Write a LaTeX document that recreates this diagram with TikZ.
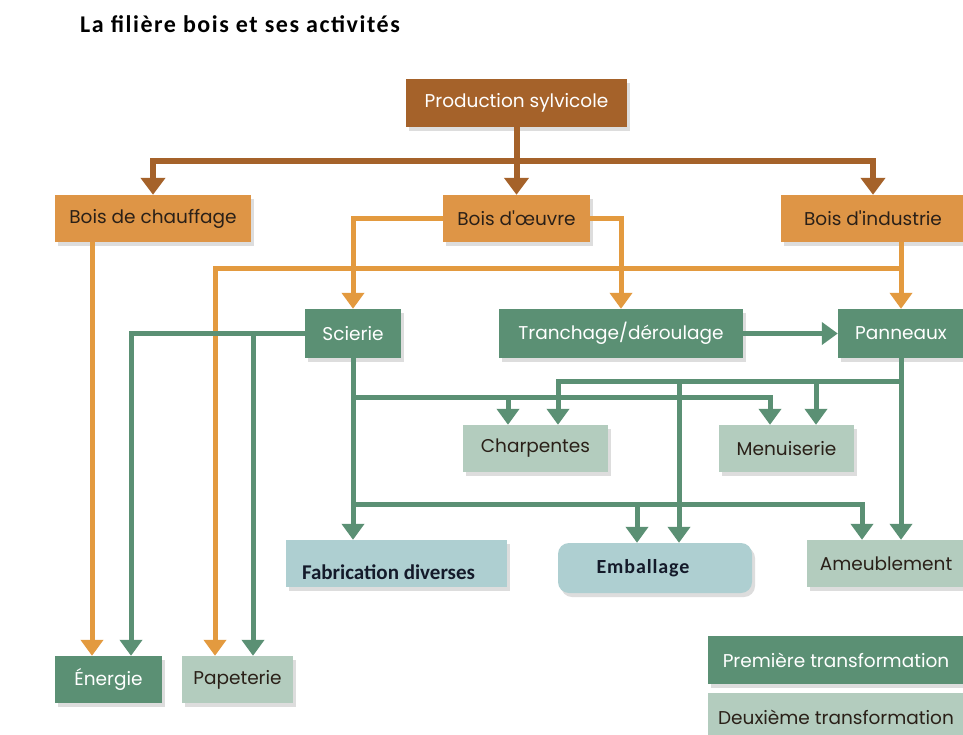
\documentclass[tikz,border=0pt]{standalone}
\usepackage{fontspec}
\setmainfont{Poppins}
\newfontfamily\calib{Carlito}
\newfontfamily\calibtitle{Carlito}[LetterSpace=6.5]
\newfontfamily\calibemb{Carlito}[LetterSpace=4.5]
\usetikzlibrary{arrows.meta,shadows}
\definecolor{cbrown}{HTML}{A5622A}
\definecolor{corange}{HTML}{DE9546}
\definecolor{cline}{HTML}{E39A3F}
\definecolor{cgreen}{HTML}{5B9074}
\definecolor{clgreen}{HTML}{B3CCBE}
\definecolor{clblue}{HTML}{AECFD1}
\definecolor{cdark}{HTML}{2A2018}
\definecolor{cnavy}{HTML}{141A2A}
\tikzset{
  x=1pt, y=-1pt,
  box/.style={rectangle, inner sep=0pt, font=\fontsize{18.5}{20}\selectfont,
    drop shadow={shadow xshift=3pt, shadow yshift=-4pt, opacity=0.22, fill=black!60}},
  brownbox/.style={box, fill=cbrown, text=white},
  orangebox/.style={box, fill=corange, text=cdark},
  greenbox/.style={box, fill=cgreen, text=white},
  lgreenbox/.style={box, fill=clgreen, text=cdark},
  lbluebox/.style={box, fill=clblue, text=cnavy},
  bline/.style={draw=cbrown, line width=6pt, line join=miter},
  oline/.style={draw=cline, line width=5pt, line join=miter},
  gline/.style={draw=cgreen, line width=5pt, line join=miter},
  btip/.style={-{Triangle[width=24pt,length=17pt]}},
  tip/.style={-{Triangle[width=22pt,length=16pt]}},
}
\begin{document}
\begin{tikzpicture}
\fill[white] (0,0) rectangle (963,734);
\useasboundingbox (0,0) rectangle (963,734);

\node[anchor=base west, inner sep=0pt, font=\calibtitle\bfseries\fontsize{24}{27}\selectfont] (title) at (80,32) {La filière bois et ses activités};

% nodes
\node[brownbox, minimum width=221pt, minimum height=48pt] (prod) at (516.5,103) {Production sylvicole};
\node[orangebox, minimum width=196pt, minimum height=47pt] (chauf) at (153,218.5) {Bois de chauffage};
\node[orangebox, minimum width=147pt, minimum height=47pt] (oeuvre) at (516.5,218.5) {Bois d\textquotesingle œuvre};
\node[orangebox, minimum width=184pt, minimum height=47pt] (indus) at (873,218.5) {Bois d\textquotesingle industrie};
\node[greenbox, minimum width=96pt, minimum height=49pt] (scierie) at (353,333.5) {Scierie};
\node[greenbox, minimum width=244pt, minimum height=49pt] (tranch) at (621,333.5) {Tranchage/déroulage};
\node[greenbox, minimum width=126pt, minimum height=49pt] (pann) at (901,333.5) {Panneaux};
\node[lgreenbox, minimum width=145pt, minimum height=47pt] (charp) at (535.5,448.5) {Charpentes};
\node[lgreenbox, minimum width=135pt, minimum height=47pt] (menu) at (786.5,448.5) {Menuiserie};
\node[lbluebox, minimum width=221pt, minimum height=47pt, font=\calib\bfseries\fontsize{21}{24}\selectfont] (fab) at (396.5,563.5) {\raisebox{-15.5pt}[0pt][0pt]{\makebox[221pt][l]{\hspace{16pt}Fabrication diverses}}};
\node[lbluebox, rounded corners=11pt, minimum width=194pt, minimum height=50pt, font=\calibemb\bfseries\fontsize{20}{24}\selectfont] (emb) at (655,568) {\hspace{-24pt}Emballage};
\node[lgreenbox, minimum width=158pt, minimum height=47pt] (ameub) at (886,563.5) {Ameublement};
\node[greenbox, minimum width=107pt, minimum height=47pt] (ener) at (108.5,679.5) {Énergie};
\node[lgreenbox, minimum width=111pt, minimum height=47pt] (pap) at (237.5,679.5) {Papeterie};
\node[greenbox, minimum width=256pt, minimum height=48pt] (prem) at (836,660) {Première transformation};
\node[lgreenbox, minimum width=256pt, minimum height=48pt] (deux) at (836,717) {Deuxième transformation};

% brown connectors
\coordinate (bj) at (516.5,161);
\draw[bline, btip] (prod.south) -- (oeuvre.north);
\draw[bline, btip] (bj) -| (chauf.north);
\draw[bline, btip] (bj) -| (indus.north);

% orange connectors
\draw[oline, tip] (chauf.south -| 92,0) -- (ener.north -| 92,0);
\draw[oline, tip] (oeuvre.west) -| (scierie.north);
\draw[oline, tip] (oeuvre.east) -| (tranch.north);
\draw[oline, tip] (indus.south -| pann.north) -- (pann.north);
\coordinate (oj) at (901,268);
\draw[oline, tip] (oj) -| (pap.north -| 215,0);

% green connectors
\draw[gline, tip] (scierie.west) -| (ener.north -| 131,0);
\draw[gline, tip] (scierie.west -| 253,0) -- (pap.north -| 253,0);
\draw[gline, tip] (scierie.south) -- (fab.north -| scierie.south);
\coordinate (s1) at (353,397);
\coordinate (s2) at (353,504);
\draw[gline, tip] (s1) -| (menu.north -| 770,0);
\draw[gline, tip] (s1 -| 508,0) -- (charp.north -| 508,0);
\draw[gline, tip] (s2) -| (ameub.north -| 862,0);
\draw[gline, tip] (s2 -| 637,0) -- (emb.north -| 637,0);
\draw[gline, tip] (pann.south) -- (ameub.north -| pann.south);
\coordinate (p1) at (901,381);
\draw[gline, tip] (p1) -| (charp.north -| 558,0);
\draw[gline, tip] (p1 -| 816,0) -- (menu.north -| 816,0);
\draw[gline, tip] (p1 -| 679,0) -- (emb.north -| 679,0);
\draw[gline, tip] (tranch.east) -- (pann.west);
\end{tikzpicture}
\end{document}
